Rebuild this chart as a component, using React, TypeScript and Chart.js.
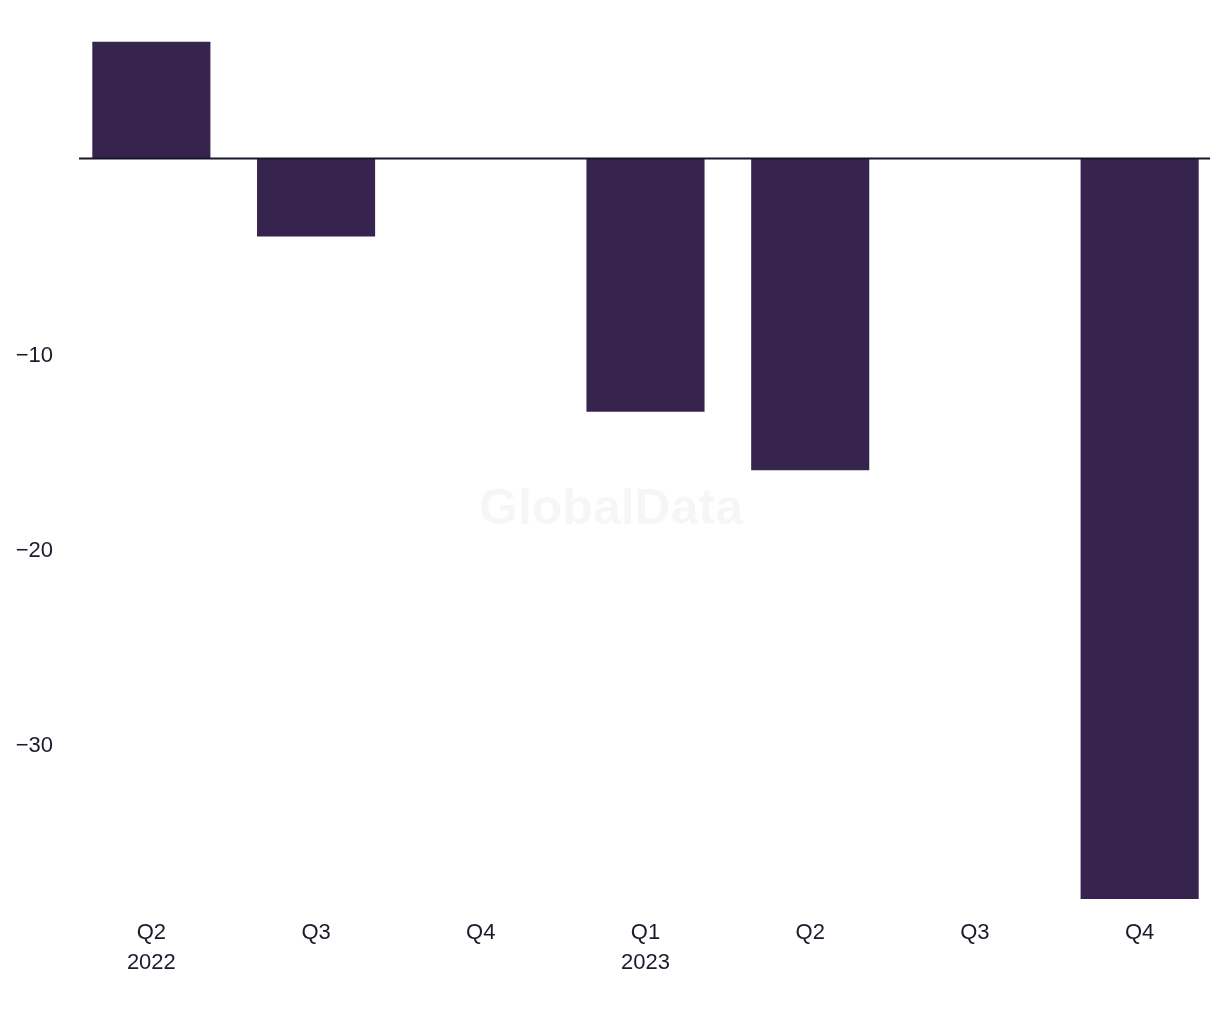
import React, { useEffect, useRef } from "react";
import { Chart, registerables } from "chart.js";

Chart.register(...registerables);

const quarters = ["Q2", "Q3", "Q4", "Q1", "Q2", "Q3", "Q4"];
const years = ["2022", "", "", "2023", "", "", ""];
const values = [6, -4, 0, -13, -16, 0, -38];
const yTicks = [-10, -20, -30];

const BAR_COLOR = "#36244f";
const TEXT_COLOR = "#1b1b2c";
const FONT = "'Liberation Sans', Arial, sans-serif";

const zeroLinePlugin = {
  id: "zeroLine",
  beforeDatasetsDraw(chart: any) {
    const { ctx } = chart;
    ctx.save();
    ctx.font = `bold 50px ${FONT}`;
    ctx.fillStyle = "rgba(0,0,0,0.035)";
    ctx.textAlign = "center";
    ctx.textBaseline = "middle";
    ctx.fillText("GlobalData", chart.width / 2, chart.height / 2);
    ctx.restore();
  },
  afterDatasetsDraw(chart: any) {
    const { ctx, chartArea, scales } = chart;
    const y = scales.y.getPixelForValue(0);
    ctx.save();
    ctx.strokeStyle = "#17172a";
    ctx.lineWidth = 2;
    ctx.beginPath();
    ctx.moveTo(chartArea.left + 10, y);
    ctx.lineTo(chartArea.right - 12, y);
    ctx.stroke();
    ctx.restore();
  },
};

export default function App() {
  const ref = useRef<HTMLCanvasElement>(null);
  useEffect(() => {
    if (!ref.current) return;
    const labels = quarters.map((q, i) => (years[i] ? [q, years[i]] : q));
    const chart = new Chart(ref.current, {
      type: "bar",
      data: {
        labels,
        datasets: [
          {
            data: values,
            backgroundColor: BAR_COLOR,
            borderWidth: 0,
            categoryPercentage: 1,
            barPercentage: 0.717,
          },
        ],
      },
      options: {
        animation: false,
        responsive: false,
        maintainAspectRatio: false,
        layout: { padding: { top: 41.5, left: 0, right: 0, bottom: 0 } },
        plugins: { legend: { display: false }, tooltip: { enabled: false } },
        scales: {
          x: {
            grid: { display: false, drawTicks: false },
            border: { display: false },
            ticks: {
              color: TEXT_COLOR,
              font: { family: FONT, size: 22, lineHeight: 1.36 },
              padding: 19,
              maxRotation: 0,
              autoSkip: false,
            },
            afterFit(scale: any) {
              scale.height = 121;
            },
          },
          y: {
            min: -38,
            max: 6,
            grid: { display: false, drawTicks: false },
            border: { display: false },
            afterBuildTicks(scale: any) {
              scale.ticks = yTicks.map((v) => ({ value: v }));
            },
            ticks: {
              color: TEXT_COLOR,
              font: { family: FONT, size: 22 },
              padding: 16,
              labelOffset: 3,
              callback: (v: any) => (Number(v) < 0 ? "\u2212" + Math.abs(Number(v)) : String(v)),
            },
            afterFit(scale: any) {
              scale.width = 69;
            },
          },
        },
      },
      plugins: [zeroLinePlugin],
    });
    return () => chart.destroy();
  }, []);
  return (
    <div style={{ position: "absolute", left: 0, top: 0, width: 1220, height: 1020, overflow: "hidden", background: "#fff" }}>
      <canvas ref={ref} width={1222} height={1020} style={{ display: "block" }} />
    </div>
  );
}
